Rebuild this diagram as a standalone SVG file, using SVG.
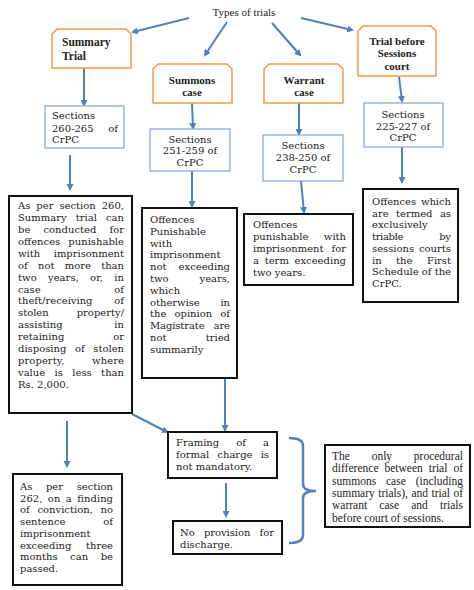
<svg xmlns="http://www.w3.org/2000/svg" width="474" height="590" viewBox="0 0 474 590">
<style>
.bg{fill:#fff}
.ob{fill:#fff;stroke:#f79646;stroke-width:1.5}
.bb{fill:#fff;stroke:#7ea6d8;stroke-width:1.2}
.kb{fill:#fff;stroke:#111;stroke-width:2}
.hd{font-family:"Liberation Serif",serif;font-weight:bold;font-size:11px;fill:#222}
.ti{font-family:"Liberation Serif",serif;font-size:11px;fill:#222}
.t{font-family:"DejaVu Serif",serif;font-size:10px;fill:#222}
.r{font-family:"Liberation Serif",serif;font-size:11.5px;fill:#222}
.c{text-anchor:middle}
.ar{stroke:#4f81bd;stroke-width:2;fill:none;marker-end:url(#ah)}
.br{stroke:#4f81bd;stroke-width:2.5;fill:none}
</style>
<defs>
<marker id="ah" viewBox="0 0 10 10" refX="7" refY="5" markerWidth="3.5" markerHeight="3.5" orient="auto" markerUnits="strokeWidth">
<path d="M0,0 L10,5 L0,10 Z" fill="#4f81bd"/>
</marker>
</defs>
<rect class="bg" x="0" y="0" width="474" height="590"/>

<g id="connectors">
<path class="ar" d="M189,18 L133,32"/>
<path class="ar" d="M227,22 L205,55"/>
<path class="ar" d="M272,23 L300,55"/>
<path class="ar" d="M301,18 L352,30"/>
<path class="ar" d="M84,68 L84,105"/>
<path class="ar" d="M70,155 L70,189"/>
<path class="ar" d="M192,103 L193,128"/>
<path class="ar" d="M192,171 L192,206"/>
<path class="ar" d="M299,103 L299,134"/>
<path class="ar" d="M301,181 L304,212"/>
<path class="ar" d="M399,77 L402,101"/>
<path class="ar" d="M402,147 L402,182"/>
<path class="ar" d="M67,421 L67,466"/>
<path class="ar" d="M132,414 L167,432"/>
<path class="ar" d="M225,378 L225,430"/>
<path class="ar" d="M226,483 L226,516"/>
<path class="br" d="M289,438 Q303,438 303,446 L303,484 Q303,491 316,491 Q303,491 303,498 L303,535 Q303,543 289,543"/>
</g>

<g id="root">
<text class="ti c" x="244" y="16">Types of trials</text>
</g>

<g id="summary-trial">
<path class="ob" d="M57,29 L126,29 L131,34 L131,68 L52,68 L52,34 Z"/>
<text class="hd" style="font-size:11.5px" x="62" y="46">Summary</text>
<text class="hd" style="font-size:11.5px" x="62" y="60">Trial</text>
</g>
<g id="summons-case">
<path class="ob" d="M158,64 L227,64 L232,69 L232,103 L153,103 L153,69 Z"/>
<text class="hd c" x="192" y="84">Summons</text>
<text class="hd c" x="192" y="96">case</text>
</g>
<g id="warrant-case">
<path class="ob" d="M269,64 L338,64 L343,69 L343,103 L264,103 L264,69 Z"/>
<text class="hd c" x="304" y="84">Warrant</text>
<text class="hd c" x="304" y="96">case</text>
</g>
<g id="sessions-trial">
<path class="ob" d="M363,26 L431,26 L436,31 L436,76 L358,76 L358,31 Z"/>
<text class="hd c" x="397" y="45">Trial before</text>
<text class="hd c" x="397" y="57">Sessions</text>
<text class="hd c" x="397" y="70">court</text>
</g>

<g id="sec-260">
<rect class="bb" x="45" y="106" width="79" height="42"/>
<text class="t" x="52" y="119">Sections</text>
<text class="t" x="52" y="131.5" word-spacing="11.6" textLength="66" lengthAdjust="spacing">260-265 of</text>
<text class="t" x="52" y="143">CrPC</text>
</g>
<g id="sec-251">
<rect class="bb" x="150" y="129" width="80" height="42"/>
<text class="t c" x="190" y="142.5">Sections</text>
<text class="t c" x="190" y="154">251-259 of</text>
<text class="t c" x="190" y="166">CrPC</text>
</g>
<g id="sec-238">
<rect class="bb" x="263" y="135" width="80" height="46"/>
<text class="t c" x="303" y="149">Sections</text>
<text class="t c" x="303" y="161">238-250 of</text>
<text class="t c" x="303" y="173">CrPC</text>
</g>
<g id="sec-225">
<rect class="bb" x="364" y="103" width="79" height="44"/>
<text class="t c" x="403" y="118">Sections</text>
<text class="t c" x="403" y="129.5">225-227 of</text>
<text class="t c" x="403" y="141">CrPC</text>
</g>

<g id="summary-offences">
<rect class="kb" x="9" y="196" width="123" height="217"/>
<text class="t" x="18" y="209" word-spacing="2.8" textLength="106" lengthAdjust="spacing">As per section 260,</text>
<text class="t" x="18" y="220.9" word-spacing="5.9" textLength="106" lengthAdjust="spacing">Summary trial can</text>
<text class="t" x="18" y="232.9" word-spacing="10" textLength="106" lengthAdjust="spacing">be conducted for</text>
<text class="t" x="18" y="244.8" word-spacing="4.9" textLength="106" lengthAdjust="spacing">offences punishable</text>
<text class="t" x="18" y="256.7" word-spacing="10.4" textLength="106" lengthAdjust="spacing">with imprisonment</text>
<text class="t" x="18" y="268.7" word-spacing="7.1" textLength="106" lengthAdjust="spacing">of not more than</text>
<text class="t" x="18" y="280.6" word-spacing="8" textLength="106" lengthAdjust="spacing">two years, or, in</text>
<text class="t" x="18" y="292.5" word-spacing="70.5" textLength="106" lengthAdjust="spacing">case of</text>
<text class="t" x="18" y="304.4" word-spacing="18.6" textLength="106" lengthAdjust="spacing">theft/receiving of</text>
<text class="t" x="18" y="316.4" word-spacing="24.8" textLength="106" lengthAdjust="spacing">stolen property/</text>
<text class="t" x="18" y="328.3" word-spacing="48.6" textLength="106" lengthAdjust="spacing">assisting in</text>
<text class="t" x="18" y="340.2" word-spacing="45.7" textLength="106" lengthAdjust="spacing">retaining or</text>
<text class="t" x="18" y="352.2" word-spacing="5.4" textLength="106" lengthAdjust="spacing">disposing of stolen</text>
<text class="t" x="18" y="364.1" word-spacing="24.4" textLength="106" lengthAdjust="spacing">property, where</text>
<text class="t" x="18" y="376" word-spacing="6.2" textLength="106" lengthAdjust="spacing">value is less than</text>
<text class="t" x="18" y="388">Rs. 2,000.</text>
</g>

<g id="summons-offences">
<rect class="kb" x="142" y="208" width="95" height="170"/>
<text class="t" x="150" y="223">Offences</text>
<text class="t" x="150" y="234.8">Punishable</text>
<text class="t" x="150" y="246.6">with</text>
<text class="t" x="150" y="258.4">imprisonment</text>
<text class="t" x="150" y="270.2" word-spacing="8.9" textLength="80" lengthAdjust="spacing">not exceeding</text>
<text class="t" x="150" y="282" word-spacing="27.9" textLength="80" lengthAdjust="spacing">two years,</text>
<text class="t" x="150" y="293.8">which</text>
<text class="t" x="150" y="305.6" word-spacing="17.5" textLength="80" lengthAdjust="spacing">otherwise in</text>
<text class="t" x="150" y="317.4" word-spacing="4.9" textLength="80" lengthAdjust="spacing">the opinion of</text>
<text class="t" x="150" y="329.2" word-spacing="6.1" textLength="80" lengthAdjust="spacing">Magistrate are</text>
<text class="t" x="150" y="341" word-spacing="36" textLength="80" lengthAdjust="spacing">not tried</text>
<text class="t" x="150" y="352.8">summarily</text>
</g>

<g id="warrant-offences">
<rect class="kb" x="244" y="214" width="109" height="71"/>
<text class="t" x="253" y="228">Offences</text>
<text class="t" x="253" y="240" word-spacing="12.4" textLength="93" lengthAdjust="spacing">punishable with</text>
<text class="t" x="253" y="252" word-spacing="4.8" textLength="93" lengthAdjust="spacing">imprisonment for</text>
<text class="t" x="253" y="264" word-spacing="2.5" textLength="93" lengthAdjust="spacing">a term exceeding</text>
<text class="t" x="253" y="276">two years.</text>
</g>

<g id="sessions-offences">
<rect class="kb" x="363" y="189" width="95" height="113"/>
<text class="t" x="372" y="205" word-spacing="1.7" textLength="79" lengthAdjust="spacing">Offences which</text>
<text class="t" x="372" y="216.7" word-spacing="4.2" textLength="79" lengthAdjust="spacing">are termed as</text>
<text class="t" x="372" y="228.4">exclusively</text>
<text class="t" x="372" y="240.1" word-spacing="33.5" textLength="79" lengthAdjust="spacing">triable by</text>
<text class="t" x="372" y="251.8" word-spacing="1.7" textLength="79" lengthAdjust="spacing">sessions courts</text>
<text class="t" x="372" y="263.5" word-spacing="11.3" textLength="79" lengthAdjust="spacing">in the First</text>
<text class="t" x="372" y="275.2" textLength="79" lengthAdjust="spacing">Schedule of the</text>
<text class="t" x="372" y="286.9">CrPC.</text>
</g>

<g id="sec-262">
<rect class="kb" x="13" y="474" width="109" height="111"/>
<text class="t" x="20" y="490" word-spacing="10.4" textLength="93" lengthAdjust="spacing">As per section</text>
<text class="t" x="20" y="501.7" word-spacing="2.3" textLength="93" lengthAdjust="spacing">262, on a finding</text>
<text class="t" x="20" y="513.4" word-spacing="4.55" textLength="93" lengthAdjust="spacing">of conviction, no</text>
<text class="t" x="20" y="525.1" word-spacing="34.7" textLength="93" lengthAdjust="spacing">sentence of</text>
<text class="t" x="20" y="536.8">imprisonment</text>
<text class="t" x="20" y="548.5" word-spacing="11.3" textLength="93" lengthAdjust="spacing">exceeding three</text>
<text class="t" x="20" y="560.2" word-spacing="9.4" textLength="93" lengthAdjust="spacing">months can be</text>
<text class="t" x="20" y="571.9">passed.</text>
</g>

<g id="framing">
<rect class="kb" x="168" y="432" width="109" height="46"/>
<text class="t" x="176" y="446" word-spacing="13.9" textLength="93" lengthAdjust="spacing">Framing of a</text>
<text class="t" x="176" y="458" word-spacing="5" textLength="93" lengthAdjust="spacing">formal charge is</text>
<text class="t" x="176" y="470">not mandatory.</text>
</g>

<g id="no-discharge">
<rect class="kb" x="173" y="521" width="109" height="33"/>
<text class="t" x="180" y="536" word-spacing="6.1" textLength="94" lengthAdjust="spacing">No provision for</text>
<text class="t" x="180" y="548">discharge.</text>
</g>

<g id="procedural-difference">
<rect class="kb" x="325" y="445" width="145" height="82"/>
<text class="r" x="332" y="460" word-spacing="18.9" textLength="131" lengthAdjust="spacing">The only procedural</text>
<text class="r" x="332" y="472.3" word-spacing="3.1" textLength="131" lengthAdjust="spacing">difference between trial of</text>
<text class="r" x="332" y="484.6" word-spacing="7" textLength="131" lengthAdjust="spacing">summons case (including</text>
<text class="r" x="332" y="496.9" word-spacing="0.6" textLength="131" lengthAdjust="spacing">summary trials), and trial of</text>
<text class="r" x="332" y="509.2" word-spacing="9.3" textLength="131" lengthAdjust="spacing">warrant case and trials</text>
<text class="r" x="332" y="521.5">before court of sessions.</text>
</g>
</svg>
